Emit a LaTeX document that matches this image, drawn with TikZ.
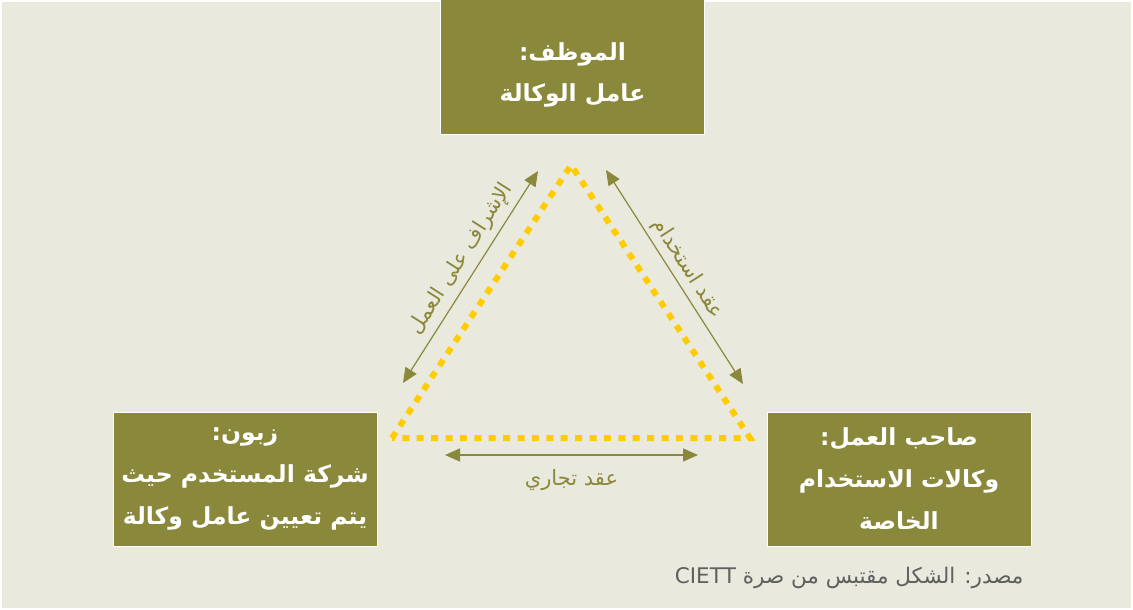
\documentclass[tikz,border=0pt]{standalone}
\usepackage{fontspec}
\usepackage{xcolor}
\usepackage{tikz}
\usetikzlibrary{arrows.meta}
\TeXXeTstate=1
\newfontfamily\arabicfont[Script=Arabic]{DejaVu Sans}
\newcommand{\artxt}[1]{{\arabicfont\beginR #1\endR}}

\definecolor{paper}{RGB}{234,233,222}
\definecolor{olive}{RGB}{138,136,58}
\definecolor{gold}{RGB}{255,204,0}
\definecolor{note}{RGB}{95,95,95}

\tikzset{
  party/.style={fill=olive, text=white, draw=white, line width=1pt,
    minimum width=264pt, minimum height=134pt, align=center,
    font=\fontsize{23.5}{42}\selectfont\bfseries},
  partytext/.style={text=white, align=center,
    font=\fontsize{23.5}{41}\selectfont\bfseries},
  link/.style={draw=olive, line width=1.2pt,
    {Triangle[length=15pt,width=13pt]}-{Triangle[length=15pt,width=13pt]}},
  linklabel/.style={text=olive, font=\fontsize{21}{24}\selectfont},
  chain/.style={draw=gold, line width=6pt, dash pattern=on 7pt off 7.4pt}
}

\begin{document}
\begin{tikzpicture}[x=1pt,y=-1pt]
  % Page and background
  \useasboundingbox (0,0) rectangle (1133,610);
  \fill[paper] (2,2) rectangle (1131,608);

  % The three parties
  \node[party] (worker) at (572.5,67) {};
  \node[partytext] (workerName) at ([yshift=-8pt]worker.center)
    {\artxt{الموظف:}\\\artxt{عامل الوكالة}};
  \node[party] (client) at (245,479)
    {\artxt{زبون:}\\\artxt{شركة المستخدم حيث}\\\artxt{يتم تعيين عامل وكالة}};
  \node[party] (agency) at (899,479)
    {\artxt{صاحب العمل:}\\\artxt{وكالات الاستخدام}\\\artxt{الخاصة}};

  % Dotted triangle between them
  \coordinate (top) at (571,165);
  \coordinate (left) at (392,438);
  \coordinate (right) at (750,438);
  \draw[chain] (left) -- (top) -- (right) -- cycle;

  % Relations
  \coordinate (supA) at (403,383);
  \coordinate (supB) at (538,171);
  \coordinate (empA) at (606,170);
  \coordinate (empB) at (743,384);
  \coordinate (comA) at (445,455);
  \coordinate (comB) at (698,455);

  \draw[link] (supA) -- node[linklabel, sloped, above=3pt, pos=0.54] {\artxt{الإشراف على العمل}} (supB);
  \draw[link] (empA) -- node[linklabel, sloped, above=1pt] {\artxt{عقد استخدام}} (empB);
  \draw[link] (comA) -- node[linklabel, below=11pt] {\artxt{عقد تجاري}} (comB);

  % Source line
  \node[text=note, anchor=east, font=\fontsize{21.5}{24}\selectfont] (source) at (1027,578)
    {\artxt{مصدر: الشكل مقتبس من صرة \beginL CIETT\endL}};
\end{tikzpicture}
\end{document}
